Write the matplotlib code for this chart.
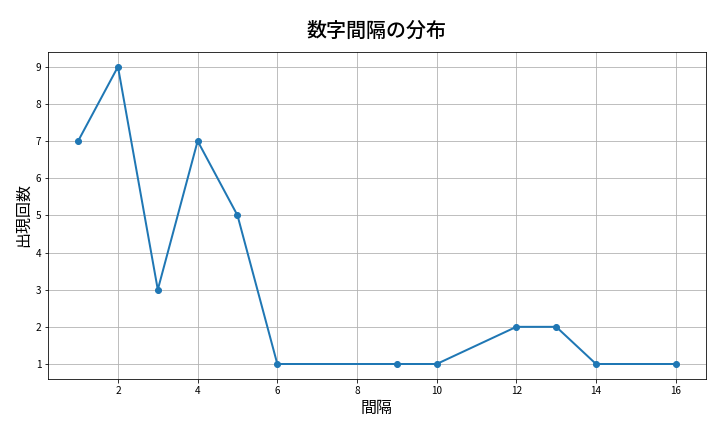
import matplotlib
matplotlib.use("Agg")
import matplotlib.pyplot as plt

plt.rcParams['font.family'] = ['Noto Sans CJK JP', 'DejaVu Sans']

# 間隔ごとの出現回数
intervals = [1, 2, 3, 4, 5, 6, 9, 10, 12, 13, 14, 16]
counts = [7, 9, 3, 7, 5, 1, 1, 1, 2, 2, 1, 1]

fig, ax = plt.subplots(figsize=(10, 6), dpi=72)
ax.plot(intervals, counts, marker="o", color="#1f77b4", linewidth=2, markersize=6)
ax.set_title("数字間隔の分布", fontsize=20, fontweight="medium", pad=15)
ax.set_xlabel("間隔", fontsize=16)
ax.set_ylabel("出現回数", fontsize=16)
ax.tick_params(labelsize=10)
ax.grid(True)
plt.subplots_adjust(left=0.067, right=0.98, top=0.88, bottom=0.123)
plt.savefig("out.png")
